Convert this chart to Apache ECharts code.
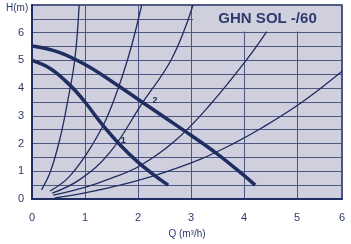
<!DOCTYPE html>
<html>
<head>
<meta charset="utf-8">
<script src="https://cdn.jsdelivr.net/npm/echarts@6/dist/echarts.min.js"></script>
<style>
  html, body { margin: 0; padding: 0; background: #fff; }
  #chart { width: 351px; height: 244px; }
</style>
</head>
<body>
<div id="chart"></div>
<script>
// pump curves (Q m3/h, H m)
const pump1 = [[0, 5.0], [0.35, 4.7], [0.72, 4.1], [1.0, 3.5], [1.3, 2.75], [1.66, 1.96], [2.0, 1.33], [2.28, 0.9], [2.57, 0.5]];
const pump2 = [[0, 5.52], [0.5, 5.3], [1.0, 4.85], [1.5, 4.25], [2.0, 3.6], [2.5, 2.95], [3.0, 2.3], [3.5, 1.62], [4.0, 0.85], [4.21, 0.5]];

// system curves
const sysA = [[0.18, 0.33], [0.35, 1.0], [0.53, 2.2], [0.68, 3.6], [0.81, 5.07], [0.89, 7.0]];
const sysB = [[0.34, 0.29], [0.7, 0.8], [1.13, 1.93], [1.45, 3.1], [1.81, 5.07], [2.07, 7.0]];
const sysC = [[0.38, 0.21], [0.9, 0.7], [1.47, 1.68], [2.08, 3.46], [2.64, 5.07], [3.04, 7.0]];
const sysD = [[0.4, 0.14], [1.0, 0.42], [1.5, 0.75], [2.04, 1.2], [2.7, 2.1], [3.36, 3.4], [4.04, 5.0], [4.43, 6.04]];
const sysF = [[0.43, 0.04], [1.0, 0.22], [1.66, 0.5], [2.4, 0.9], [3.17, 1.43], [3.8, 2.0], [4.34, 2.57], [5.1, 3.5], [5.85, 4.61]];

const xLabels = [0, 1, 2, 3, 4, 5, 5.85];
const yLabels = [0, 1, 2, 3, 4, 5, 6];

const navy = '#1f2d60';
const textCol = '#2d3b6c';
const gridCol = '#4d5783';
const fill = '#cfcfdd';

const thin = { color: navy, width: 1.3 };
const thick = { color: navy, width: 3.5 };

function line(data, style) {
  return { type: 'line', data: data, smooth: 0.4, showSymbol: false, lineStyle: style, z: 3, silent: true };
}

const chart = echarts.init(document.getElementById('chart'));
chart.setOption({
  animation: false,
  textStyle: { fontFamily: 'Liberation Sans, Arial, sans-serif' },
  grid: { left: 32, right: 9, top: 5, bottom: 42, show: true, backgroundColor: fill, borderColor: navy, borderWidth: 1.5 },
  xAxis: {
    type: 'value', min: 0, max: 5.85, interval: 1,
    name: 'Q (m³/h)', nameLocation: 'middle', nameGap: 30,
    nameTextStyle: { color: textCol, fontSize: 10 },
    axisLine: { lineStyle: { color: navy, width: 2 } },
    axisTick: { show: false },
    axisLabel: { customValues: xLabels, color: textCol, fontSize: 11, margin: 13,
      formatter: v => v > 5.5 ? '6' : String(v) },
    splitLine: { show: true, lineStyle: { color: gridCol, width: 1 } }
  },
  yAxis: {
    type: 'value', min: 0, max: 7, interval: 0.5,
    axisLine: { show: true, lineStyle: { color: navy, width: 2 } },
    axisTick: { show: false },
    axisLabel: { customValues: yLabels, color: textCol, fontSize: 11, margin: 8 },
    splitLine: { show: true, lineStyle: { color: gridCol, width: 1 } }
  },
  series: [
    line(sysA, thin), line(sysB, thin), line(sysC, thin), line(sysD, thin), line(sysF, thin),
    line(pump1, thick), line(pump2, thick)
  ]
});

const p0 = chart.convertToPixel({ gridIndex: 0 }, [3.04, 7]);
const p1 = chart.convertToPixel({ gridIndex: 0 }, [5.85, 6.04]);
const l1 = chart.convertToPixel({ gridIndex: 0 }, [1.72, 2.1]);
const l2 = chart.convertToPixel({ gridIndex: 0 }, [2.32, 3.54]);
chart.setOption({
  graphic: [
    { type: 'rect', z: 1, shape: { x: p0[0], y: p0[1] + 1, width: p1[0] - p0[0] - 1, height: p1[1] - p0[1] - 1 }, style: { fill: fill } },
    { type: 'text', z: 5, x: (p0[0] + p1[0]) / 2, y: (p0[1] + p1[1]) / 2 + 1,
      style: { text: 'GHN SOL -/60', fill: textCol, font: 'bold 15px Liberation Sans, Arial, sans-serif', align: 'center', verticalAlign: 'middle' } },
    { type: 'text', z: 5, x: l1[0], y: l1[1],
      style: { text: '1', fill: navy, font: 'bold 9px Liberation Sans, Arial, sans-serif', align: 'center', verticalAlign: 'middle' } },
    { type: 'text', z: 5, x: l2[0], y: l2[1],
      style: { text: '2', fill: navy, font: 'bold 9px Liberation Sans, Arial, sans-serif', align: 'center', verticalAlign: 'middle' } },
    { type: 'text', z: 5, left: 6, top: 3,
      style: { text: 'H(m)', fill: textCol, font: '10px Liberation Sans, Arial, sans-serif' } }
  ]
});
</script>
</body>
</html>
